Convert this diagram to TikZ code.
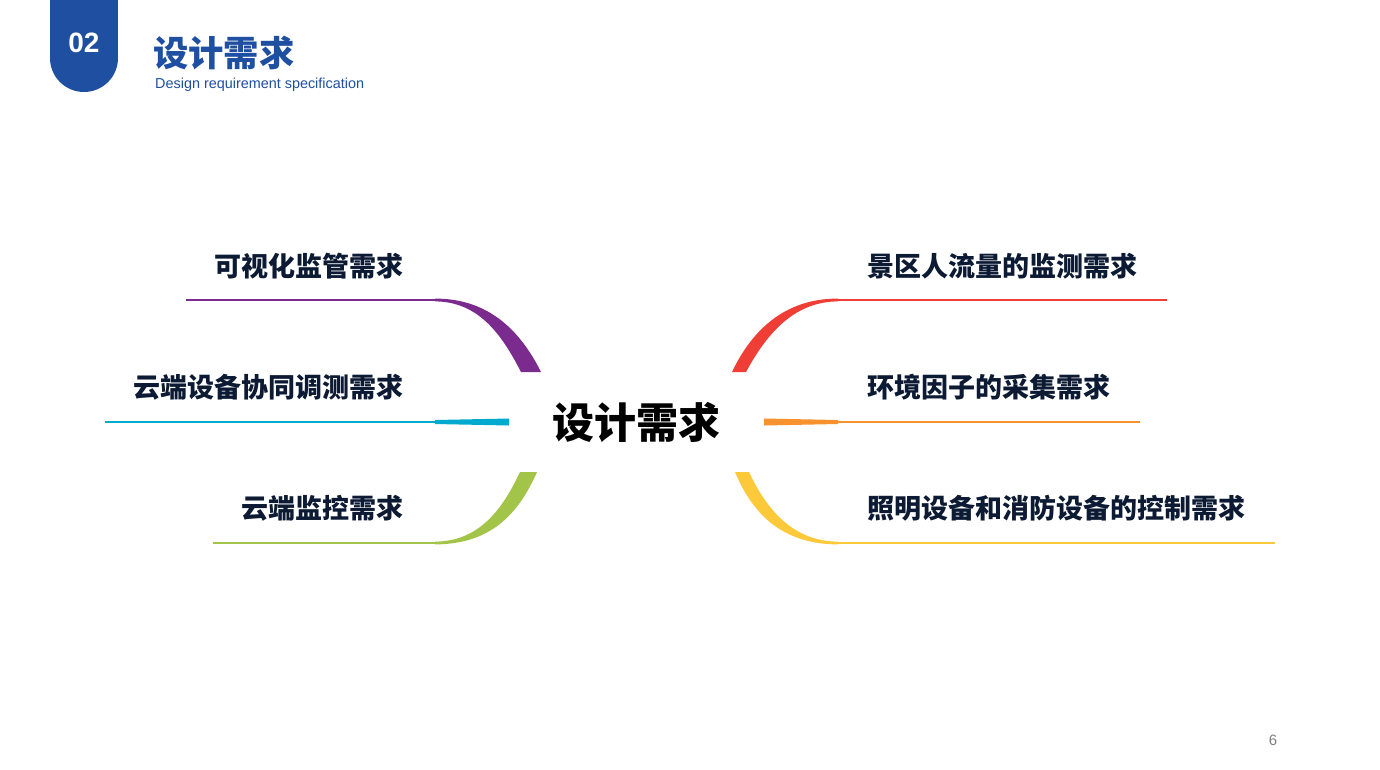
\documentclass[tikz,border=0pt]{standalone}
\usepackage{fontspec}
\setmainfont{Liberation Sans}
\newfontfamily\cjk{Noto Sans CJK SC}
\definecolor{badge}{HTML}{1F4FA0}
\definecolor{lbl}{HTML}{0C1A33}
\definecolor{cpurple}{HTML}{7B2A8E}
\definecolor{ccyan}{HTML}{00A9CE}
\definecolor{cgreen}{HTML}{A2C449}
\definecolor{cred}{HTML}{EE3E35}
\definecolor{corange}{HTML}{F7922E}
\definecolor{cyellow}{HTML}{FCC93A}
\tikzset{
  lab/.style={inner sep=0pt, text=lbl, font=\cjk\bfseries\fontsize{27}{31}\selectfont},
  thin/.style={line width=2.8pt},
}
\begin{document}
\begin{tikzpicture}[x=1pt,y=-1pt]
\useasboundingbox (0,0) rectangle (1380,769);
\fill[white] (0,0) rectangle (1380,769);
% header badge
\fill[badge] (50,0) rectangle (118,58);
\fill[badge] (84,58) circle[radius=34];
\node[inner sep=0pt, text=white, font=\bfseries\fontsize{28}{30}\selectfont] (num) at (84,43) {02};
\node[inner sep=0pt, anchor=west, text=badge, font=\cjk\bfseries\fontsize{35.3}{38}\selectfont] (title) at (153,53) {设计需求};
\node[inner sep=0pt, anchor=west, text=badge, font=\fontsize{14.4}{16}\selectfont] (sub) at (155,85) {Design requirement specification};
% center
\node[inner sep=0pt, text=black, font=\cjk\bfseries\fontsize{42}{46}\selectfont] (center) at (636.5,422) {设计需求};
% labels
\node[lab, anchor=east] (l1) at (404,266) {可视化监管需求};
\node[lab, anchor=east] (l2) at (404,387) {云端设备协同调测需求};
\node[lab, anchor=east] (l3) at (404,508) {云端监控需求};
\node[lab, anchor=west] (r1) at (867,266) {景区人流量的监测需求};
\node[lab, anchor=west] (r2) at (867,387) {环境因子的采集需求};
\node[lab, anchor=west] (r3) at (867,508) {照明设备和消防设备的控制需求};
% coordinates
\coordinate (p1) at (435,300); \coordinate (p1e) at (186,300);
\coordinate (p2) at (435,422); \coordinate (p2e) at (105,422);
\coordinate (p3) at (435,543); \coordinate (p3e) at (213,543);
\coordinate (q1) at (838,300); \coordinate (q1e) at (1167,300);
\coordinate (q2) at (838,422); \coordinate (q2e) at (1140,422);
\coordinate (q3) at (838,543); \coordinate (q3e) at (1275,543);
% left branches
\draw[cpurple, thin] (p1e) -- (p1);
\fill[cpurple] (435,298.6) .. controls (488,298.4) and (520,330) .. (541,372) -- (521,372) .. controls (503,337) and (480,301.5) .. (435,301.4) -- cycle;
\draw[ccyan, thin] (p2e) -- (p2);
\fill[ccyan] (435,420) -- (509,418.5) -- (509,425.5) -- (435,424) -- cycle;
\draw[cgreen, thin] (p3e) -- (p3);
\fill[cgreen] (435,544.4) .. controls (490,544.2) and (518,515) .. (537,472) -- (520,472) .. controls (503,508) and (480,541.5) .. (435,541.6) -- cycle;
% right branches
\draw[cred, thin] (q1) -- (q1e);
\fill[cred] (838,298.6) .. controls (785,298.4) and (752,330) .. (732,372) -- (746,372) .. controls (765,337) and (792,301.5) .. (838,301.4) -- cycle;
\draw[corange, thin] (q2) -- (q2e);
\fill[corange] (764,418.5) -- (838,420) -- (838,424) -- (764,425.5) -- cycle;
\draw[cyellow, thin] (q3) -- (q3e);
\fill[cyellow] (838,544.4) .. controls (783,544.2) and (753,515) .. (735,472) -- (749,472) .. controls (766,508) and (792,541.5) .. (838,541.6) -- cycle;
% page number
\node[inner sep=0pt, text=gray, font=\fontsize{15}{17}\selectfont] (pg) at (1273,740) {6};
\end{tikzpicture}
\end{document}
